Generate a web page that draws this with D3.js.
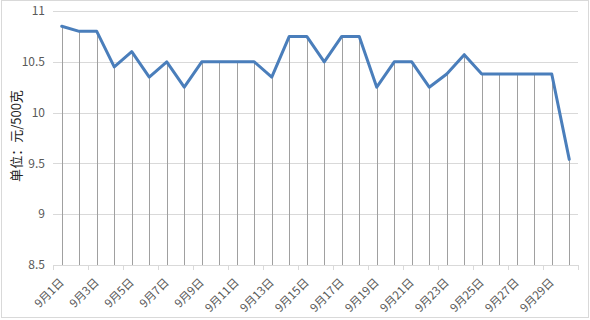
<!DOCTYPE html>
<html><head><meta charset="utf-8">
<script src="https://cdn.jsdelivr.net/npm/d3@7"></script>
<style>body{margin:0;background:#fff}svg{display:block;font-family:"Microsoft YaHei","Noto Sans CJK SC",sans-serif}</style>
</head><body><svg id="c" width="590" height="320"></svg>
<script>
const days = d3.range(1,31).map(d => "9月" + d + "日");
const prices = [10.85,10.8,10.8,10.45,10.6,10.35,10.5,10.25,10.5,10.5,10.5,10.5,10.35,10.75,10.75,10.5,10.75,10.75,10.25,10.5,10.5,10.25,10.38,10.57,10.38,10.38,10.38,10.38,10.38,9.54];
const yTicks = [8.5,9,9.5,10,10.5,11];
const yTitle = "单位：元/500克";

const svg = d3.select("#c");
const L = 53, R = 578, T = 11, B = 265;
svg.append("rect").attr("x",1.5).attr("y",0.5).attr("width",587).attr("height",317).attr("fill","#fff").attr("stroke","#d9d9d9");

const x = d3.scaleBand().domain(days).range([L,R]);
const y = d3.scaleLinear().domain([8.5,11]).range([B,T]);

// grid
svg.append("g").selectAll("line").data(yTicks.slice(1)).join("line")
  .attr("x1",L).attr("x2",R).attr("y1",d=>Math.round(y(d))+0.5).attr("y2",d=>Math.round(y(d))+0.5)
  .attr("stroke","#d9d9d9");
// y labels
svg.append("g").selectAll("text").data(yTicks).join("text")
  .attr("x",45).attr("y",d=>y(d)).attr("dy","0.35em").attr("text-anchor","end")
  .attr("font-size",12).attr("fill","#595959").text(d=>d);
// x axis line + ticks
svg.append("line").attr("x1",L).attr("x2",R).attr("y1",B+0.5).attr("y2",B+0.5).attr("stroke","#d9d9d9");
const tickIdx = d3.range(0,31,2);
svg.append("g").selectAll("line").data(tickIdx).join("line")
  .attr("x1",i=>Math.round(L + i*x.step())+0.5).attr("x2",i=>Math.round(L + i*x.step())+0.5)
  .attr("y1",B).attr("y2",B+5).attr("stroke","#d9d9d9");
// drop lines
const cx = d => x(d) + x.bandwidth()/2;
svg.append("g").selectAll("line").data(days).join("line")
  .attr("x1",d=>Math.round(cx(d))+0.5).attr("x2",d=>Math.round(cx(d))+0.5)
  .attr("y1",(d,i)=>y(prices[i])).attr("y2",B)
  .attr("stroke","#a0a0a0").attr("stroke-width",1);
// line
svg.append("path").datum(prices)
  .attr("d", d3.line().x((v,i)=>cx(days[i])).y(v=>y(v)))
  .attr("fill","none").attr("stroke","#4a7ebb").attr("stroke-width",3).attr("stroke-linejoin","round").attr("stroke-linecap","round");
// x labels
svg.append("g").selectAll("text").data(days.filter((d,i)=>i%2===0)).join("text")
  .attr("transform",d=>`translate(${cx(d)+3},${283}) rotate(-45)`)
  .attr("text-anchor","end").attr("font-size",11.5).attr("fill","#595959").text(d=>d);
// y title
svg.append("text").attr("transform","translate(21,136) rotate(-90)").attr("text-anchor","middle")
  .attr("font-size",13).attr("fill","#222").text(yTitle);
</script></body></html>
